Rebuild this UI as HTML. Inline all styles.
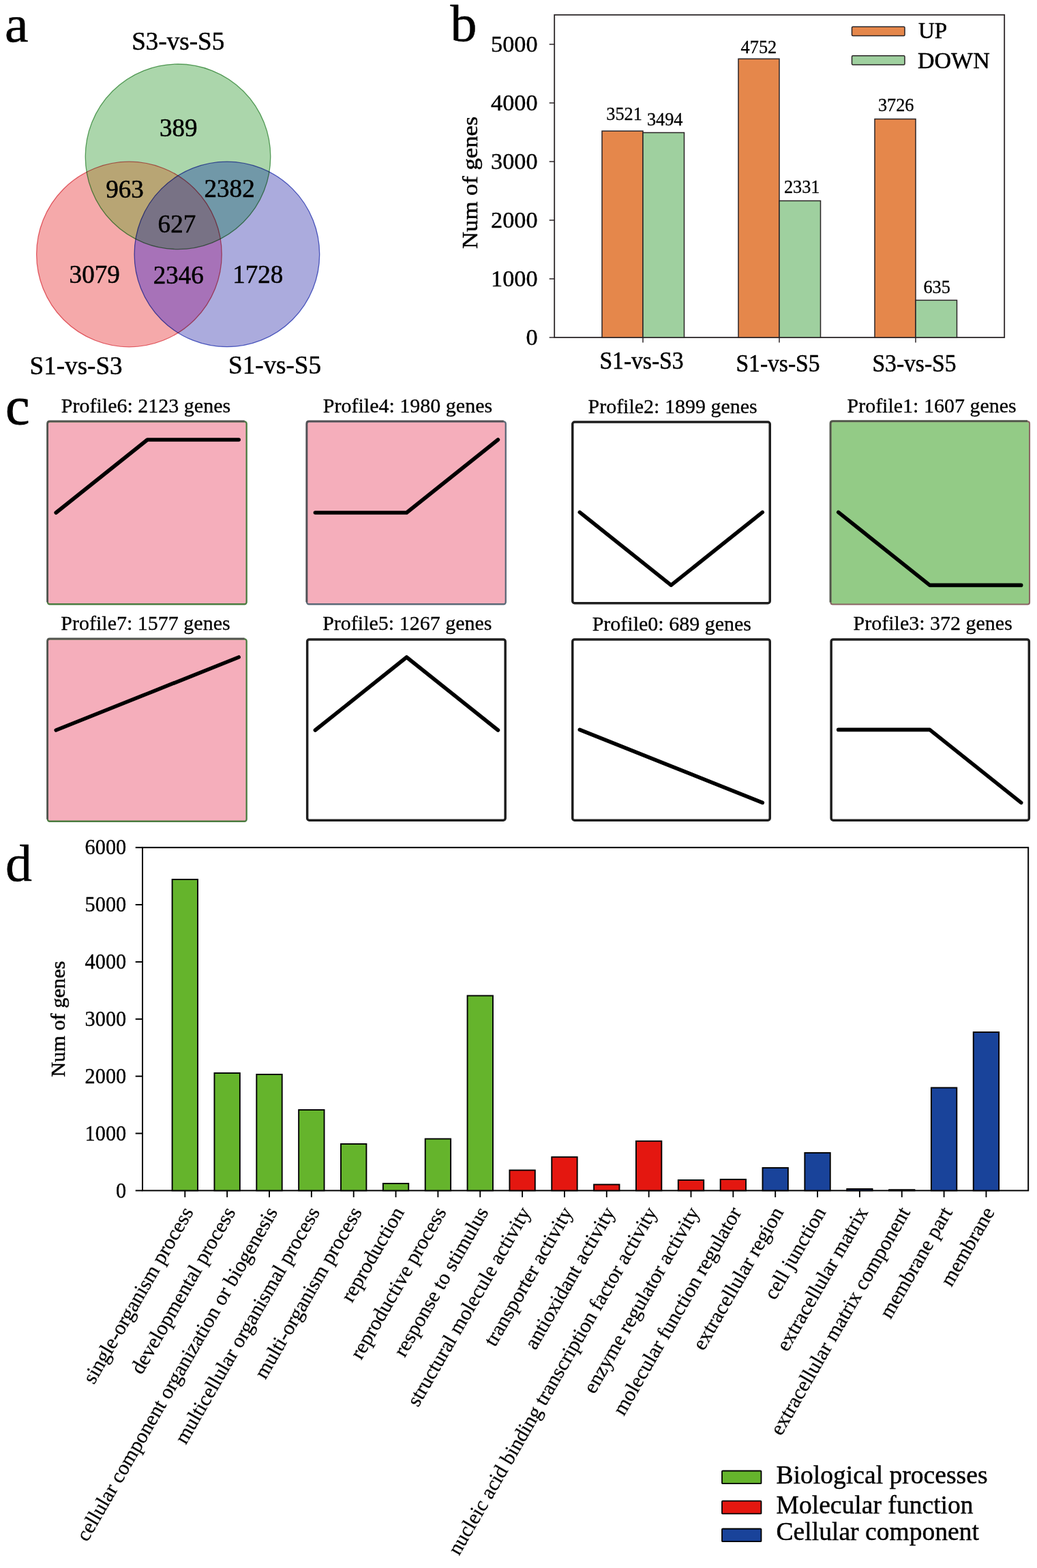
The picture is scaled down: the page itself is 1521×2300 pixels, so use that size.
<!DOCTYPE html>
<html lang="en">
<head>
<meta charset="utf-8">
<title>Figure: DEG Venn diagram, up/down counts, expression profiles and GO classification</title>
<style>
html,body{margin:0;padding:0;background:#fff;}
body{width:1521px;height:2300px;overflow:hidden;}
svg{display:block;}
svg text{font-family:'Liberation Serif', 'Times New Roman', serif;white-space:pre;stroke:#000;stroke-width:0.5px;stroke-linejoin:round;}
</style>
</head>
<body>
<svg width="1521" height="2300" viewBox="0 0 1521 2300">
<rect width="1521" height="2300" fill="#fff"/>
<text transform="translate(7.00 60.50) scale(1 0.98)" font-size="78" text-anchor="start" fill="#000">a</text>
<text transform="translate(660.50 60.00) scale(1 0.98)" font-size="78" text-anchor="start" fill="#000">b</text>
<text transform="translate(8.00 621.80) scale(1 0.98)" font-size="80" text-anchor="start" fill="#000" style="stroke-width:0.9px">c</text>
<text transform="translate(8.00 1291.50) scale(1 0.98)" font-size="78" text-anchor="start" fill="#000">d</text>
<g id="venn">
<defs>
<clipPath id="cr"><circle cx="189.4" cy="373.0" r="135.8"/></clipPath>
<clipPath id="cg"><circle cx="261.0" cy="229.8" r="135.8"/></clipPath>
<clipPath id="cb"><circle cx="332.9" cy="372.9" r="135.8"/></clipPath>
</defs>
<circle cx="189.4" cy="373.0" r="135.8" fill="#f5a9aa"/>
<circle cx="261.0" cy="229.8" r="135.8" fill="#abd6ab"/>
<circle cx="332.9" cy="372.9" r="135.8" fill="#ababdd"/>
<circle cx="189.4" cy="373.0" r="135.8" fill="#b8a574" clip-path="url(#cg)"/>
<circle cx="261.0" cy="229.8" r="135.8" fill="#7198a8" clip-path="url(#cb)"/>
<circle cx="189.4" cy="373.0" r="135.8" fill="#a772b8" clip-path="url(#cb)"/>
<g clip-path="url(#cg)"><circle cx="189.4" cy="373.0" r="135.8" fill="#787285" clip-path="url(#cb)"/></g>
<circle cx="189.4" cy="373.0" r="135.8" fill="none" stroke="#e0505a" stroke-width="1.3" stroke-opacity="0.85" style="mix-blend-mode:multiply"/>
<circle cx="261.0" cy="229.8" r="135.8" fill="none" stroke="#4a9a4f" stroke-width="1.3" stroke-opacity="0.85" style="mix-blend-mode:multiply"/>
<circle cx="332.9" cy="372.9" r="135.8" fill="none" stroke="#3a4ac0" stroke-width="1.3" stroke-opacity="0.85" style="mix-blend-mode:multiply"/>
</g>
<text transform="translate(261.80 200.00) scale(1 1.04)" font-size="37.1" text-anchor="middle" fill="#000">389</text>
<text transform="translate(183.00 290.00) scale(1 1.04)" font-size="37.1" text-anchor="middle" fill="#000">963</text>
<text transform="translate(336.60 288.70) scale(1 1.04)" font-size="37.1" text-anchor="middle" fill="#000">2382</text>
<text transform="translate(259.40 341.20) scale(1 1.04)" font-size="37.1" text-anchor="middle" fill="#000">627</text>
<text transform="translate(138.70 415.00) scale(1 1.04)" font-size="37.1" text-anchor="middle" fill="#000">3079</text>
<text transform="translate(261.80 416.20) scale(1 1.04)" font-size="37.1" text-anchor="middle" fill="#000">2346</text>
<text transform="translate(378.30 414.50) scale(1 1.04)" font-size="37.1" text-anchor="middle" fill="#000">1728</text>
<text transform="translate(261.20 73.00) scale(1 1.04)" font-size="37.1" text-anchor="middle" fill="#000">S3-vs-S5</text>
<text transform="translate(111.60 548.70) scale(1 1.04)" font-size="37.1" text-anchor="middle" fill="#000">S1-vs-S3</text>
<text transform="translate(403.00 548.00) scale(1 1.04)" font-size="37.1" text-anchor="middle" fill="#000">S1-vs-S5</text>
<rect x="813.2" y="21.8" width="660.0" height="473.2" fill="none" stroke="#2b2527" stroke-width="1.8"/>
<line x1="805.7" y1="495.00" x2="813.2" y2="495.00" stroke="#2b2527" stroke-width="1.5"/>
<text transform="translate(788.60 506.20) scale(1.03 1.04)" font-size="33.3" text-anchor="end" fill="#000" style="stroke-width:0.4px">0</text>
<line x1="805.7" y1="409.00" x2="813.2" y2="409.00" stroke="#2b2527" stroke-width="1.5"/>
<text transform="translate(788.60 420.20) scale(1.03 1.04)" font-size="33.3" text-anchor="end" fill="#000" style="stroke-width:0.4px">1000</text>
<line x1="805.7" y1="323.00" x2="813.2" y2="323.00" stroke="#2b2527" stroke-width="1.5"/>
<text transform="translate(788.60 334.20) scale(1.03 1.04)" font-size="33.3" text-anchor="end" fill="#000" style="stroke-width:0.4px">2000</text>
<line x1="805.7" y1="237.00" x2="813.2" y2="237.00" stroke="#2b2527" stroke-width="1.5"/>
<text transform="translate(788.60 248.20) scale(1.03 1.04)" font-size="33.3" text-anchor="end" fill="#000" style="stroke-width:0.4px">3000</text>
<line x1="805.7" y1="151.00" x2="813.2" y2="151.00" stroke="#2b2527" stroke-width="1.5"/>
<text transform="translate(788.60 162.20) scale(1.03 1.04)" font-size="33.3" text-anchor="end" fill="#000" style="stroke-width:0.4px">4000</text>
<line x1="805.7" y1="65.00" x2="813.2" y2="65.00" stroke="#2b2527" stroke-width="1.5"/>
<text transform="translate(788.60 76.20) scale(1.03 1.04)" font-size="33.3" text-anchor="end" fill="#000" style="stroke-width:0.4px">5000</text>
<rect x="883" y="192.19" width="60" height="302.81" fill="#e5874b" stroke="#2b2527" stroke-width="1.5"/>
<rect x="943" y="194.52" width="60.5" height="300.48" fill="#9fd09f" stroke="#2b2527" stroke-width="1.5"/>
<line x1="943" y1="495" x2="943" y2="502.5" stroke="#2b2527" stroke-width="1.5"/>
<text transform="translate(941.00 541.20) scale(1 1.04)" font-size="33.6" text-anchor="middle" fill="#000">S1-vs-S3</text>
<text transform="translate(915.60 176.20) scale(1 1.04)" font-size="26.3" text-anchor="middle" fill="#000" style="stroke-width:0.3px">3521</text>
<text transform="translate(975.20 183.70) scale(1 1.04)" font-size="26.3" text-anchor="middle" fill="#000" style="stroke-width:0.3px">3494</text>
<rect x="1083" y="86.33" width="60" height="408.67" fill="#e5874b" stroke="#2b2527" stroke-width="1.5"/>
<rect x="1143" y="294.53" width="60.5" height="200.47" fill="#9fd09f" stroke="#2b2527" stroke-width="1.5"/>
<line x1="1143" y1="495" x2="1143" y2="502.5" stroke="#2b2527" stroke-width="1.5"/>
<text transform="translate(1141.00 544.60) scale(1 1.04)" font-size="33.6" text-anchor="middle" fill="#000">S1-vs-S5</text>
<text transform="translate(1112.90 77.90) scale(1 1.04)" font-size="26.3" text-anchor="middle" fill="#000" style="stroke-width:0.3px">4752</text>
<text transform="translate(1176.20 282.50) scale(1 1.04)" font-size="26.3" text-anchor="middle" fill="#000" style="stroke-width:0.3px">2331</text>
<rect x="1283" y="174.56" width="60" height="320.44" fill="#e5874b" stroke="#2b2527" stroke-width="1.5"/>
<rect x="1343" y="440.39" width="60.5" height="54.61" fill="#9fd09f" stroke="#2b2527" stroke-width="1.5"/>
<line x1="1343" y1="495" x2="1343" y2="502.5" stroke="#2b2527" stroke-width="1.5"/>
<text transform="translate(1341.00 544.60) scale(1 1.04)" font-size="33.6" text-anchor="middle" fill="#000">S3-vs-S5</text>
<text transform="translate(1314.20 162.50) scale(1 1.04)" font-size="26.3" text-anchor="middle" fill="#000" style="stroke-width:0.3px">3726</text>
<text transform="translate(1374.20 429.50) scale(1 1.04)" font-size="26.3" text-anchor="middle" fill="#000" style="stroke-width:0.3px">635</text>
<text transform="translate(700.00 267.80) rotate(-90) scale(1.128 1)" font-size="30.7" text-anchor="middle" fill="#000">Num of genes</text>
<rect x="1249.5" y="39.2" width="77.5" height="13.3" rx="1.5" fill="#e5874b" stroke="#2b2527" stroke-width="1.5"/>
<rect x="1249.5" y="81.8" width="77.5" height="13.3" rx="1.5" fill="#9fd09f" stroke="#2b2527" stroke-width="1.5"/>
<text transform="translate(1347.00 56.20) scale(1 1.04)" font-size="33" text-anchor="start" fill="#000">UP</text>
<text transform="translate(1346.00 99.50) scale(1.03 1.04)" font-size="33" text-anchor="start" fill="#000">DOWN</text>
<rect x="69.85" y="618.45" width="291.80" height="267.80" rx="3" fill="#f5aebb" stroke="#4a7c40" stroke-width="2.3"/>
<path d="M69.60,883.25 L69.60,621.45 Q69.60,617.90 72.85,617.90 L358.65,617.90" fill="none" stroke="#52544f" stroke-width="2.8"/>
<polyline points="82.2,752.0 216.2,645.0 350.2,645.0" fill="none" stroke="#000" stroke-width="5.6" stroke-linecap="round" stroke-linejoin="round"/>
<text transform="translate(214.00 605.40) scale(1 1)" font-size="30" text-anchor="middle" fill="#000" style="stroke-width:0.3px">Profile6: 2123 genes</text>
<rect x="450.05" y="618.45" width="291.70" height="267.80" rx="3" fill="#f5aebb" stroke="#5a6977" stroke-width="2.3"/>
<path d="M449.80,883.25 L449.80,621.45 Q449.80,617.90 453.05,617.90 L738.75,617.90" fill="none" stroke="#525155" stroke-width="2.8"/>
<polyline points="462.4,752.0 596.4,752.0 730.4,645.0" fill="none" stroke="#000" stroke-width="5.6" stroke-linecap="round" stroke-linejoin="round"/>
<text transform="translate(598.00 605.00) scale(1 1)" font-size="30" text-anchor="middle" fill="#000" style="stroke-width:0.3px">Profile4: 1980 genes</text>
<rect x="839.75" y="619.05" width="289.50" height="265.70" rx="3" fill="#fff" stroke="#1e1e1e" stroke-width="3.5"/>
<polyline points="850.3,751.4 984.3,858.4 1118.3,751.4" fill="none" stroke="#000" stroke-width="5.6" stroke-linecap="round" stroke-linejoin="round"/>
<text transform="translate(986.60 606.40) scale(1 1)" font-size="30" text-anchor="middle" fill="#000" style="stroke-width:0.3px">Profile2: 1899 genes</text>
<rect x="1218.40" y="618.30" width="291.70" height="268.10" rx="3" fill="#93cb86" stroke="#8a6262" stroke-width="2.0"/>
<path d="M1218.00,883.40 L1218.00,621.30 Q1218.00,617.60 1221.40,617.60 L1507.10,617.60" fill="none" stroke="#50554a" stroke-width="2.8"/>
<polyline points="1229.7,751.4 1363.7,858.4 1497.7,858.4" fill="none" stroke="#000" stroke-width="5.6" stroke-linecap="round" stroke-linejoin="round"/>
<text transform="translate(1366.60 605.00) scale(1 1)" font-size="30" text-anchor="middle" fill="#000" style="stroke-width:0.3px">Profile1: 1607 genes</text>
<rect x="69.85" y="937.35" width="291.80" height="267.40" rx="3" fill="#f5aebb" stroke="#4a7c40" stroke-width="2.3"/>
<path d="M69.60,1201.75 L69.60,940.35 Q69.60,936.80 72.85,936.80 L358.65,936.80" fill="none" stroke="#52544f" stroke-width="2.8"/>
<polyline points="82.2,1071.0 216.2,1017.5 350.2,964.0" fill="none" stroke="#000" stroke-width="5.6" stroke-linecap="round" stroke-linejoin="round"/>
<text transform="translate(213.50 924.00) scale(1 1)" font-size="30" text-anchor="middle" fill="#000" style="stroke-width:0.3px">Profile7: 1577 genes</text>
<rect x="450.65" y="937.95" width="290.50" height="265.30" rx="3" fill="#fff" stroke="#1e1e1e" stroke-width="3.5"/>
<polyline points="462.4,1071.0 596.4,964.0 730.4,1071.0" fill="none" stroke="#000" stroke-width="5.6" stroke-linecap="round" stroke-linejoin="round"/>
<text transform="translate(597.30 923.60) scale(1 1)" font-size="30" text-anchor="middle" fill="#000" style="stroke-width:0.3px">Profile5: 1267 genes</text>
<rect x="839.75" y="937.95" width="289.50" height="265.30" rx="3" fill="#fff" stroke="#1e1e1e" stroke-width="3.5"/>
<polyline points="850.3,1070.4 984.3,1123.9 1118.3,1177.4" fill="none" stroke="#000" stroke-width="5.6" stroke-linecap="round" stroke-linejoin="round"/>
<text transform="translate(985.30 924.80) scale(1 1)" font-size="30" text-anchor="middle" fill="#000" style="stroke-width:0.3px">Profile0: 689 genes</text>
<rect x="1219.15" y="937.95" width="290.20" height="265.30" rx="3" fill="#fff" stroke="#1e1e1e" stroke-width="3.5"/>
<polyline points="1229.7,1070.4 1363.7,1070.4 1497.7,1177.4" fill="none" stroke="#000" stroke-width="5.6" stroke-linecap="round" stroke-linejoin="round"/>
<text transform="translate(1368.20 924.00) scale(1 1)" font-size="30" text-anchor="middle" fill="#000" style="stroke-width:0.3px">Profile3: 372 genes</text>
<rect x="209.0" y="1243.2" width="1299.2" height="503.20000000000005" fill="none" stroke="#000" stroke-width="2.0"/>
<line x1="198.7" y1="1746.40" x2="209.0" y2="1746.40" stroke="#000" stroke-width="2.0"/>
<text transform="translate(185.20 1756.60) scale(1 1.02)" font-size="30.3" text-anchor="end" fill="#000" style="stroke-width:0.35px">0</text>
<line x1="198.7" y1="1662.53" x2="209.0" y2="1662.53" stroke="#000" stroke-width="2.0"/>
<text transform="translate(185.20 1672.73) scale(1 1.02)" font-size="30.3" text-anchor="end" fill="#000" style="stroke-width:0.35px">1000</text>
<line x1="198.7" y1="1578.67" x2="209.0" y2="1578.67" stroke="#000" stroke-width="2.0"/>
<text transform="translate(185.20 1588.87) scale(1 1.02)" font-size="30.3" text-anchor="end" fill="#000" style="stroke-width:0.35px">2000</text>
<line x1="198.7" y1="1494.80" x2="209.0" y2="1494.80" stroke="#000" stroke-width="2.0"/>
<text transform="translate(185.20 1505.00) scale(1 1.02)" font-size="30.3" text-anchor="end" fill="#000" style="stroke-width:0.35px">3000</text>
<line x1="198.7" y1="1410.93" x2="209.0" y2="1410.93" stroke="#000" stroke-width="2.0"/>
<text transform="translate(185.20 1421.13) scale(1 1.02)" font-size="30.3" text-anchor="end" fill="#000" style="stroke-width:0.35px">4000</text>
<line x1="198.7" y1="1327.07" x2="209.0" y2="1327.07" stroke="#000" stroke-width="2.0"/>
<text transform="translate(185.20 1337.27) scale(1 1.02)" font-size="30.3" text-anchor="end" fill="#000" style="stroke-width:0.35px">5000</text>
<line x1="198.7" y1="1243.20" x2="209.0" y2="1243.20" stroke="#000" stroke-width="2.0"/>
<text transform="translate(185.20 1253.40) scale(1 1.02)" font-size="30.3" text-anchor="end" fill="#000" style="stroke-width:0.35px">6000</text>
<text transform="translate(95.30 1494.80) rotate(-90) scale(1 0.95)" font-size="30.3" text-anchor="middle" fill="#000">Num of genes</text>
<rect x="252.60" y="1290" width="37.4" height="456.40" fill="#65b42c" stroke="#000" stroke-width="1.9"/>
<line x1="271.30" y1="1746.4" x2="271.30" y2="1756.2" stroke="#000" stroke-width="1.9"/>
<text transform="translate(284.30 1777.90) rotate(-60) scale(1 1)" font-size="30.3" text-anchor="end" fill="#000" style="stroke-width:0.25px">single-organism process</text>
<rect x="314.45" y="1574" width="37.4" height="172.40" fill="#65b42c" stroke="#000" stroke-width="1.9"/>
<line x1="333.15" y1="1746.4" x2="333.15" y2="1756.2" stroke="#000" stroke-width="1.9"/>
<text transform="translate(346.15 1777.90) rotate(-60) scale(1 1)" font-size="30.3" text-anchor="end" fill="#000" style="stroke-width:0.25px">developmental process</text>
<rect x="376.30" y="1576" width="37.4" height="170.40" fill="#65b42c" stroke="#000" stroke-width="1.9"/>
<line x1="395.00" y1="1746.4" x2="395.00" y2="1756.2" stroke="#000" stroke-width="1.9"/>
<text transform="translate(408.00 1777.90) rotate(-60) scale(1 1)" font-size="30.3" text-anchor="end" fill="#000" style="stroke-width:0.25px">cellular component organization or biogenesis</text>
<rect x="438.15" y="1628" width="37.4" height="118.40" fill="#65b42c" stroke="#000" stroke-width="1.9"/>
<line x1="456.85" y1="1746.4" x2="456.85" y2="1756.2" stroke="#000" stroke-width="1.9"/>
<text transform="translate(469.85 1777.90) rotate(-60) scale(1 1)" font-size="30.3" text-anchor="end" fill="#000" style="stroke-width:0.25px">multicellular organismal process</text>
<rect x="500.00" y="1678" width="37.4" height="68.40" fill="#65b42c" stroke="#000" stroke-width="1.9"/>
<line x1="518.70" y1="1746.4" x2="518.70" y2="1756.2" stroke="#000" stroke-width="1.9"/>
<text transform="translate(531.70 1777.90) rotate(-60) scale(1 1)" font-size="30.3" text-anchor="end" fill="#000" style="stroke-width:0.25px">multi-organism process</text>
<rect x="561.85" y="1736" width="37.4" height="10.40" fill="#65b42c" stroke="#000" stroke-width="1.9"/>
<line x1="580.55" y1="1746.4" x2="580.55" y2="1756.2" stroke="#000" stroke-width="1.9"/>
<text transform="translate(593.55 1777.90) rotate(-60) scale(1 1)" font-size="30.3" text-anchor="end" fill="#000" style="stroke-width:0.25px">reproduction</text>
<rect x="623.70" y="1670.5" width="37.4" height="75.90" fill="#65b42c" stroke="#000" stroke-width="1.9"/>
<line x1="642.40" y1="1746.4" x2="642.40" y2="1756.2" stroke="#000" stroke-width="1.9"/>
<text transform="translate(655.40 1777.90) rotate(-60) scale(1 1)" font-size="30.3" text-anchor="end" fill="#000" style="stroke-width:0.25px">reproductive process</text>
<rect x="685.55" y="1460.5" width="37.4" height="285.90" fill="#65b42c" stroke="#000" stroke-width="1.9"/>
<line x1="704.25" y1="1746.4" x2="704.25" y2="1756.2" stroke="#000" stroke-width="1.9"/>
<text transform="translate(717.25 1777.90) rotate(-60) scale(1 1)" font-size="30.3" text-anchor="end" fill="#000" style="stroke-width:0.25px">response to stimulus</text>
<rect x="747.40" y="1716.5" width="37.4" height="29.90" fill="#e41710" stroke="#000" stroke-width="1.9"/>
<line x1="766.10" y1="1746.4" x2="766.10" y2="1756.2" stroke="#000" stroke-width="1.9"/>
<text transform="translate(779.10 1777.90) rotate(-60) scale(1 1)" font-size="30.3" text-anchor="end" fill="#000" style="stroke-width:0.25px">structural molecule activity</text>
<rect x="809.25" y="1697.2" width="37.4" height="49.20" fill="#e41710" stroke="#000" stroke-width="1.9"/>
<line x1="827.95" y1="1746.4" x2="827.95" y2="1756.2" stroke="#000" stroke-width="1.9"/>
<text transform="translate(840.95 1777.90) rotate(-60) scale(1 1)" font-size="30.3" text-anchor="end" fill="#000" style="stroke-width:0.25px">transporter activity</text>
<rect x="871.10" y="1737.5" width="37.4" height="8.90" fill="#e41710" stroke="#000" stroke-width="1.9"/>
<line x1="889.80" y1="1746.4" x2="889.80" y2="1756.2" stroke="#000" stroke-width="1.9"/>
<text transform="translate(902.80 1777.90) rotate(-60) scale(1 1)" font-size="30.3" text-anchor="end" fill="#000" style="stroke-width:0.25px">antioxidant activity</text>
<rect x="932.95" y="1673.8" width="37.4" height="72.60" fill="#e41710" stroke="#000" stroke-width="1.9"/>
<line x1="951.65" y1="1746.4" x2="951.65" y2="1756.2" stroke="#000" stroke-width="1.9"/>
<text transform="translate(964.65 1777.90) rotate(-60) scale(1 1)" font-size="30.3" text-anchor="end" fill="#000" style="stroke-width:0.25px">nucleic acid binding transcription factor activity</text>
<rect x="994.80" y="1731" width="37.4" height="15.40" fill="#e41710" stroke="#000" stroke-width="1.9"/>
<line x1="1013.50" y1="1746.4" x2="1013.50" y2="1756.2" stroke="#000" stroke-width="1.9"/>
<text transform="translate(1026.50 1777.90) rotate(-60) scale(1 1)" font-size="30.3" text-anchor="end" fill="#000" style="stroke-width:0.25px">enzyme regulator activity</text>
<rect x="1056.65" y="1730" width="37.4" height="16.40" fill="#e41710" stroke="#000" stroke-width="1.9"/>
<line x1="1075.35" y1="1746.4" x2="1075.35" y2="1756.2" stroke="#000" stroke-width="1.9"/>
<text transform="translate(1088.35 1777.90) rotate(-60) scale(1 1)" font-size="30.3" text-anchor="end" fill="#000" style="stroke-width:0.25px">molecular function regulator</text>
<rect x="1118.50" y="1713" width="37.4" height="33.40" fill="#19439a" stroke="#000" stroke-width="1.9"/>
<line x1="1137.20" y1="1746.4" x2="1137.20" y2="1756.2" stroke="#000" stroke-width="1.9"/>
<text transform="translate(1150.20 1777.90) rotate(-60) scale(1 1)" font-size="30.3" text-anchor="end" fill="#000" style="stroke-width:0.25px">extracellular region</text>
<rect x="1180.35" y="1691" width="37.4" height="55.40" fill="#19439a" stroke="#000" stroke-width="1.9"/>
<line x1="1199.05" y1="1746.4" x2="1199.05" y2="1756.2" stroke="#000" stroke-width="1.9"/>
<text transform="translate(1212.05 1777.90) rotate(-60) scale(1 1)" font-size="30.3" text-anchor="end" fill="#000" style="stroke-width:0.25px">cell junction</text>
<rect x="1242.20" y="1744" width="37.4" height="2.40" fill="#19439a" stroke="#000" stroke-width="1.9"/>
<line x1="1260.90" y1="1746.4" x2="1260.90" y2="1756.2" stroke="#000" stroke-width="1.9"/>
<text transform="translate(1273.90 1777.90) rotate(-60) scale(1 1)" font-size="30.3" text-anchor="end" fill="#000" style="stroke-width:0.25px">extracellular matrix</text>
<rect x="1304.05" y="1745.2" width="37.4" height="1.20" fill="#19439a" stroke="#000" stroke-width="1.9"/>
<line x1="1322.75" y1="1746.4" x2="1322.75" y2="1756.2" stroke="#000" stroke-width="1.9"/>
<text transform="translate(1335.75 1777.90) rotate(-60) scale(1 1)" font-size="30.3" text-anchor="end" fill="#000" style="stroke-width:0.25px">extracellular matrix component</text>
<rect x="1365.90" y="1595.5" width="37.4" height="150.90" fill="#19439a" stroke="#000" stroke-width="1.9"/>
<line x1="1384.60" y1="1746.4" x2="1384.60" y2="1756.2" stroke="#000" stroke-width="1.9"/>
<text transform="translate(1397.60 1777.90) rotate(-60) scale(1 1)" font-size="30.3" text-anchor="end" fill="#000" style="stroke-width:0.25px">membrane part</text>
<rect x="1427.75" y="1514" width="37.4" height="232.40" fill="#19439a" stroke="#000" stroke-width="1.9"/>
<line x1="1446.45" y1="1746.4" x2="1446.45" y2="1756.2" stroke="#000" stroke-width="1.9"/>
<text transform="translate(1459.45 1777.90) rotate(-60) scale(1 1)" font-size="30.3" text-anchor="end" fill="#000" style="stroke-width:0.25px">membrane</text>
<rect x="1059" y="2157.5" width="57.5" height="18.7" rx="1" fill="#65b42c" stroke="#000" stroke-width="1.8"/>
<text transform="translate(1138.50 2175.50) scale(1 1.02)" font-size="37.6" text-anchor="start" fill="#000" style="stroke-width:0.45px">Biological processes</text>
<rect x="1059" y="2201.7" width="57.5" height="18.7" rx="1" fill="#e41710" stroke="#000" stroke-width="1.8"/>
<text transform="translate(1138.50 2220.00) scale(1 1.02)" font-size="37.6" text-anchor="start" fill="#000" style="stroke-width:0.45px">Molecular function</text>
<rect x="1059" y="2242.5" width="57.5" height="18.7" rx="1" fill="#19439a" stroke="#000" stroke-width="1.8"/>
<text transform="translate(1138.50 2258.60) scale(1 1.02)" font-size="37.6" text-anchor="start" fill="#000" style="stroke-width:0.45px">Cellular component</text>
</svg>
</body>
</html>
